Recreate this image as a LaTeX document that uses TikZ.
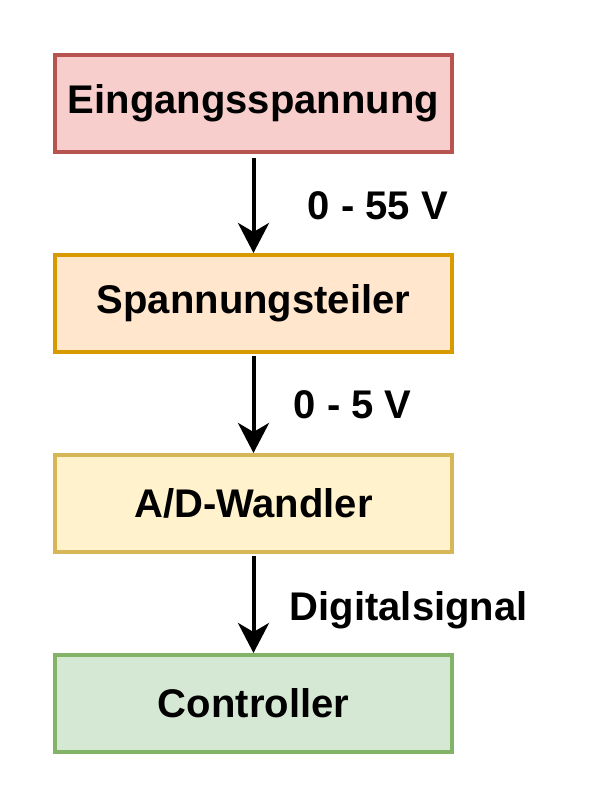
\documentclass[tikz,border=0pt]{standalone}
\usepackage{fontspec}
\setmainfont{Liberation Sans}
\usetikzlibrary{positioning,arrows.meta}

\definecolor{rotfill}{HTML}{F8CECC}
\definecolor{rotrand}{HTML}{B85450}
\definecolor{orangefill}{HTML}{FFE6CC}
\definecolor{orangerand}{HTML}{D79B00}
\definecolor{gelbfill}{HTML}{FFF2CC}
\definecolor{gelbrand}{HTML}{D6B656}
\definecolor{gruenfill}{HTML}{D5E8D4}
\definecolor{gruenrand}{HTML}{82B366}

\tikzset{
  block/.style={draw, line width=4pt, minimum width=397pt, minimum height=97pt,
    inner sep=0pt, font=\fontsize{40}{48}\selectfont\bfseries},
  pfeil/.style={line width=4pt, -{Stealth[length=30pt, width=31pt, inset=9pt]}},
  beschr/.style={font=\fontsize{40}{48}\selectfont\bfseries, anchor=west}
}

\begin{document}
\begin{tikzpicture}[x=1pt,y=-1pt]
        % Rahmen des Bildes
        \useasboundingbox (0,0) rectangle (600,805);

        % Bloecke
        \node[block, fill=rotfill, draw=rotrand] (ein) at (253.5,103.5) {Eingangsspannung};
        \node[block, fill=orangefill, draw=orangerand] (teiler) at (253.5,303.5) {Spannungsteiler};
        \node[block, fill=gelbfill, draw=gelbrand] (ad) at (253.5,503.5) {A/D-Wandler};
        \node[block, fill=gruenfill, draw=gruenrand] (ctrl) at (253.5,703.5) {Controller};

        % Verbindungen mit Beschriftung
        \draw[pfeil] ([yshift=-4pt]ein.south) -- (teiler.north)
          node[beschr, midway, xshift=49pt] (lab1) {0 - 55 V};
        \draw[pfeil] ([yshift=-2pt]teiler.south) -- (ad.north)
          node[beschr, midway, xshift=35pt] (lab2) {0 - 5 V};
        \draw[pfeil] ([yshift=-2pt]ad.south) -- (ctrl.north)
          node[beschr, midway, xshift=31pt, yshift=-6pt] (lab3) {Digitalsignal};
\end{tikzpicture}
\end{document}
